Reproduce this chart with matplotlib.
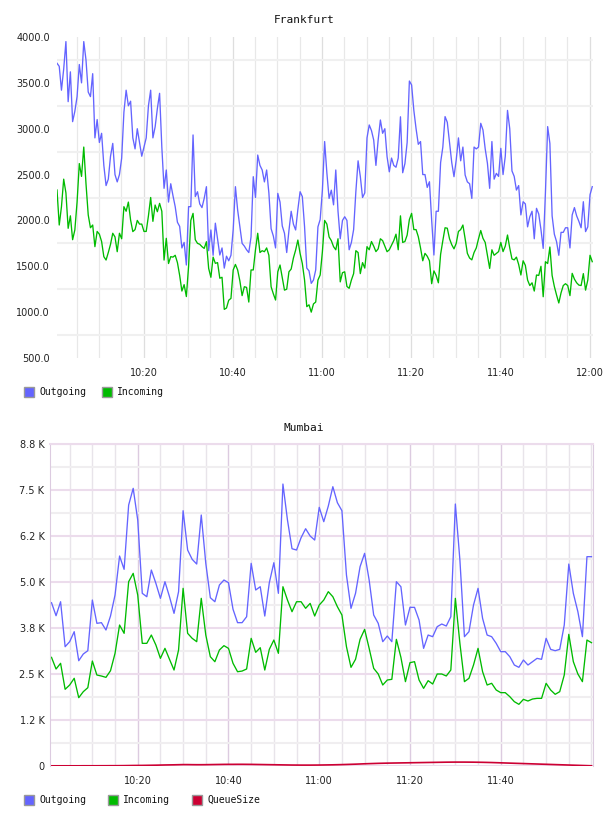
import numpy as np
import pandas as pd
import matplotlib
matplotlib.use('Agg')
import matplotlib.pyplot as plt
import matplotlib.dates as mdates
from matplotlib.patches import Rectangle
from matplotlib.ticker import MultipleLocator, FixedLocator, FuncFormatter

W, H = 608, 816

blue = '#6464ff'
green = '#00bb00'
red = '#cc0033'

#########################   DATA  ##########################

# Frankfurt, one sample every 30 s
fra_start = '2024-01-01 10:00:36'
fra_outgoing = [
    3714, 3680, 3420, 3650, 3950, 3295, 3620, 3077, 3190, 3350,
    3700, 3500, 3950, 3750, 3400, 3350, 3600, 2900, 3100, 2850,
    2950, 2600, 2380, 2450, 2700, 2840, 2500, 2420, 2500, 2680,
    3180, 3420, 3250, 3300, 2900, 2780, 3000, 2850, 2700, 2800,
    2900, 3250, 3420, 2900, 3020, 3220, 3386, 2800, 2350, 2550,
    2200, 2400, 2270, 2150, 1980, 1935, 1700, 1760, 1514, 2150,
    2150,
    2932, 2260, 2313, 2180, 2140, 2240, 2368, 1670, 1896, 1620,
    1970, 1800, 1623, 1700, 1480, 1610, 1560, 1620, 1900, 2368,
    2113, 1930, 1750, 1720, 1680, 1650, 1820, 2477, 2250, 2713,
    2600, 2550, 2420, 2550, 2300, 1910, 1830, 1700, 2295, 2200,
    1940, 1860, 1650, 1890, 2100, 1960, 1896, 2120, 2313, 2260,
    1932, 1480, 1450, 1314, 1350, 1460, 1930, 2010, 2331, 2860,
    2520, 2240, 2330, 2170, 2550, 2100, 1800, 2000, 2040, 2000,
    1680, 1760, 1900, 2313, 2650, 2480, 2250, 2300, 2900, 3041,
    2980, 2877, 2600, 2877, 3095, 2950, 3000, 2695, 2530, 2680,
    2600, 2580, 2680, 3130, 2520, 2620, 2850, 3520, 3477, 3200,
    3000, 2830, 2860, 2500, 2500, 2360, 2422, 2000, 1623, 2100,
    2100, 2630, 2800, 3132, 3070, 2850, 2630, 2477, 2659, 2900,
    2650, 2800, 2495, 2420, 2400, 2240, 2800, 2780, 2800, 3059,
    2986, 2780, 2622, 2350, 2860, 2450, 2513, 2480, 2786, 2500,
    2700, 3200, 3000, 2540, 2480, 2331, 2380, 2060, 2204, 2180,
    1930, 2040, 2100, 1800, 2132, 2070, 1900, 1695, 2300, 3023,
    2840, 2050, 1850, 1768, 1620, 1870, 1870, 1920, 1920, 1700,
    2060, 2140, 2050, 1990, 1920, 2204, 1878, 1930, 2280, 2368,
]
fra_incoming = [
    2332, 1950, 2150, 2450, 2300, 1914, 2050, 1790, 1896, 2200,
    2620, 2480, 2800, 2400, 2060, 1920, 1950, 1714, 1880, 1850,
    1770, 1605, 1568, 1650, 1740, 1860, 1820, 1659, 1860, 1800,
    2150, 2100, 2200, 2004, 1878, 1900, 2000, 1960, 1960, 1880,
    1880, 2050, 2250, 1990, 2168, 2095, 2186, 2100, 1568, 1805,
    1530, 1605, 1600, 1620, 1540, 1400, 1230, 1300, 1170, 1500,
    2000,
    2077, 1790, 1750, 1740, 1714, 1695, 1768, 1477, 1380, 1600,
    1532, 1540, 1370, 1380, 1030, 1045, 1130, 1150, 1460, 1520,
    1460, 1340, 1180, 1277, 1270, 1110, 1460, 1460, 1680, 1860,
    1650, 1670, 1659, 1700, 1620, 1277, 1200, 1132, 1440, 1514,
    1380, 1240, 1250, 1440, 1470, 1590, 1677, 1786, 1640, 1530,
    1350, 1060, 1080, 1000, 1090, 1110, 1350, 1405, 1659, 2000,
    1960, 1820, 1780, 1714, 1680, 1800, 1330, 1430, 1440, 1280,
    1260, 1350, 1420, 1670, 1650, 1420, 1540, 1480, 1714, 1680,
    1770, 1720, 1660, 1690, 1800, 1780, 1720, 1659, 1680, 1730,
    1780, 1850, 1680, 2050, 1760, 1770, 1840, 2010, 2077, 1900,
    1900, 1823, 1700, 1560, 1641, 1610, 1560, 1310, 1450, 1400,
    1320, 1630, 1780, 1920, 1915, 1800, 1735, 1690, 1750, 1880,
    1900, 1950, 1800, 1641, 1590, 1570, 1650, 1700, 1800, 1890,
    1805, 1760, 1620, 1477, 1680, 1620, 1640, 1660, 1760, 1660,
    1720, 1841, 1700, 1580, 1570, 1600, 1520, 1405, 1560, 1510,
    1350, 1290, 1320, 1230, 1405, 1400, 1500, 1168, 1550, 1530,
    1710, 1400, 1280, 1186, 1100, 1210, 1290, 1310, 1290, 1180,
    1423, 1360, 1320, 1295, 1290, 1420, 1240, 1350, 1620, 1550,
]

# Mumbai, one sample per minute
mum_start = '2024-01-01 10:01'
mum_outgoing = [
    4437, 4084, 4464, 3242, 3378, 3650, 2861, 3043, 3133, 4510,
    3877, 3895, 3695, 4075, 4646, 5706, 5344, 7091, 7545, 6684,
    4692, 4600, 5325, 4964, 4556, 5008, 4600, 4148, 4736, 6937,
    5869, 5616, 5488, 6820, 5507, 4573, 4464, 4918, 5054, 4981,
    4260, 3895, 3895, 4057, 5507, 4782, 4872, 4075, 4981, 5524,
    4692, 7662, 6684, 5904, 5869, 6203, 6448, 6249, 6140, 7028,
    6639, 7064, 7590, 7155, 6937, 5190, 4284, 4692, 5416, 5779,
    5054, 4103, 3877, 3378, 3532, 3378, 5008, 4872, 3831, 4311,
    4311, 3967, 3197, 3559, 3514, 3786, 3858, 3804, 4057, 7119,
    5597, 3514, 3650, 4374, 4828, 4012, 3559, 3514, 3333, 3107,
    3107, 2970, 2744, 2681, 2880, 2744, 2834, 2925, 2899, 3469,
    3170, 3133, 3170, 3831, 5488, 4692, 4193, 3514, 5688, 5688,
]
mum_incoming = [
    2952, 2636, 2790, 2084, 2201, 2383, 1856, 2019, 2128, 2853,
    2472, 2445, 2409, 2589, 3062, 3831, 3605, 5008, 5235, 4646,
    3333, 3333, 3559, 3288, 2925, 3197, 2899, 2608, 3152, 4828,
    3605, 3469, 3378, 4556, 3559, 2970, 2834, 3152, 3270, 3197,
    2790, 2562, 2580, 2636, 3469, 3089, 3215, 2608, 3170, 3423,
    3062, 4872, 4510, 4193, 4464, 4464, 4285, 4419, 4076, 4374,
    4510, 4737, 4600, 4329, 4103, 3242, 2681, 2899, 3442, 3713,
    3197, 2654, 2500, 2201, 2337, 2355, 3442, 2952, 2292, 2808,
    2835, 2337, 2110, 2319, 2228, 2500, 2500, 2446, 2608, 4556,
    3333, 2292, 2383, 2744, 3197, 2563, 2201, 2247, 2065, 1993,
    1993, 1884, 1748, 1676, 1811, 1766, 1820, 1838, 1838, 2247,
    2065, 1948, 2020, 2473, 3578, 2835, 2500, 2292, 3423, 3351,
]
mum_queue = [
    5, 5, 5, 5, 5, 5, 5, 6, 6, 6,
    6, 7, 7, 8, 8, 9, 10, 12, 14, 15,
    16, 18, 20, 22, 25, 28, 30, 32, 35, 38,
    38, 36, 35, 35, 36, 38, 40, 42, 44, 45,
    45, 46, 46, 45, 44, 42, 40, 38, 36, 34,
    32, 30, 28, 26, 25, 24, 24, 24, 25, 26,
    28, 30, 32, 35, 38, 42, 46, 50, 55, 60,
    64, 68, 72, 75, 78, 80, 82, 84, 86, 88,
    90, 92, 94, 96, 98, 100, 102, 104, 105, 106,
    106, 106, 105, 104, 102, 100, 97, 94, 90, 86,
    82, 78, 74, 70, 66, 62, 58, 54, 50, 46,
    42, 38, 34, 30, 26, 22, 18, 14, 10, 6,
]

fra_ticks = [500, 1000, 1500, 2000, 2500, 3000, 3500, 4000]
mum_ticks = [0, 1250, 2500, 3750, 5000, 6250, 7500, 8750]
mum_time_labels = ['10:20', '10:40', '11:00', '11:20', '11:40']

fra_times = pd.date_range(fra_start, periods=len(fra_outgoing), freq='30s')
mum_times = pd.date_range(mum_start, periods=len(mum_outgoing), freq='1min')

#########################   HELPERS  ##########################

def fig_box(left, top, right, bottom):
    # pixel box -> figure fraction rect
    return [left / W, 1 - bottom / H, (right - left) / W, (bottom - top) / H]


def legend_item(fig, x, y, color, label):
    fig.add_artist(Rectangle((x / W, 1 - (y + 5) / H), 10 / W, 10 / H,
                             transform=fig.transFigure, facecolor=color,
                             edgecolor='#999999', lw=1.0))
    fig.text((x + 15) / W, 1 - y / H, label, fontsize=7, family='DejaVu Sans Mono',
             va='center', ha='left', color='#111111')


def style_axes(ax, pad_y):
    ax.set_axisbelow(True)
    ax.tick_params(which='both', length=0, labelsize=7, colors='#222222')
    ax.tick_params(axis='y', pad=pad_y)
    ax.tick_params(axis='x', pad=7)
    ax.xaxis.set_major_locator(mdates.MinuteLocator(byminute=[0, 20, 40]))
    ax.xaxis.set_minor_locator(mdates.MinuteLocator(byminute=range(0, 60, 5)))
    ax.xaxis.set_major_formatter(mdates.DateFormatter('%H:%M'))
    ax.xaxis.set_minor_formatter(plt.NullFormatter())


fig = plt.figure(figsize=(W / 100, H / 100), dpi=100)

#########################   FRANKFURT  ##########################

ax1 = fig.add_axes(fig_box(57, 37, 593, 358))
style_axes(ax1, 5)
ax1.plot(fra_times, fra_outgoing, color=blue, lw=0.95)
ax1.plot(fra_times, fra_incoming, color=green, lw=0.95)
ax1.set_ylim(fra_ticks[0], fra_ticks[-1])
ax1.set_xlim(fra_times[0], fra_times[-1] + pd.Timedelta(seconds=10))
ax1.yaxis.set_major_locator(FixedLocator(fra_ticks))
ax1.yaxis.set_minor_locator(FixedLocator(np.array(fra_ticks[:-1]) + 250))
ax1.yaxis.set_major_formatter(FuncFormatter(lambda v, p: f'{v:.1f}'))
ax1.yaxis.grid(True, which='minor', color='#f0f0f0', lw=1.5)
ax1.xaxis.grid(True, which='major', color='#dedede', lw=0.9)
ax1.xaxis.grid(True, which='minor', color='#e8e8e8', lw=0.9)
for s in ax1.spines.values():
    s.set_visible(False)

fig.text(0.5, 1 - 20 / H, 'Frankfurt', ha='center', va='center', fontsize=8,
         family='DejaVu Sans Mono', color='#111111')
legend_item(fig, 24, 392, blue, 'Outgoing')
legend_item(fig, 102, 392, green, 'Incoming')

#########################   MUMBAI  ##########################

ax2 = fig.add_axes(fig_box(50, 444, 593, 766))
style_axes(ax2, 4)
ax2.plot(mum_times, mum_outgoing, color=blue, lw=0.95)
ax2.plot(mum_times, mum_incoming, color=green, lw=0.95)
ax2.plot(mum_times, mum_queue, color=red, lw=1.2)
ax2.set_ylim(mum_ticks[0], mum_ticks[-1])
ax2.set_xlim(pd.Timestamp('2024-01-01 10:00:40'), pd.Timestamp('2024-01-01 12:00:20'))
# only label up to 11:40, as in the original
ax2.xaxis.set_major_locator(FixedLocator(mdates.date2num(
    pd.to_datetime(['2024-01-01 ' + t for t in mum_time_labels]))))
ax2.yaxis.set_major_locator(FixedLocator(mum_ticks))
ax2.yaxis.set_minor_locator(FixedLocator(np.array(mum_ticks[:-1]) + 625))
ax2.yaxis.set_major_formatter(FuncFormatter(lambda v, p: '0' if v == 0 else f'{v / 1000:.1f} K'))
ax2.yaxis.grid(True, which='major', color='#ecdcec', lw=1.5)
ax2.yaxis.grid(True, which='minor', color='#f0eef0', lw=1.5)
ax2.xaxis.grid(True, which='major', color='#dccbe0', lw=1.0)
ax2.xaxis.grid(True, which='minor', color='#e8e4ea', lw=1.0)
ax2.spines['bottom'].set_visible(False)
ax2.spines['top'].set_color('#ecdcec')
ax2.spines['top'].set_linewidth(1.5)
ax2.spines['left'].set_color('#dccbe0')
ax2.spines['right'].set_color('#dccbe0')

fig.text(0.5, 1 - 428 / H, 'Mumbai', ha='center', va='center', fontsize=8,
         family='DejaVu Sans Mono', color='#111111')
legend_item(fig, 24, 800, blue, 'Outgoing')
legend_item(fig, 108, 800, green, 'Incoming')
legend_item(fig, 192, 800, red, 'QueueSize')

fig.savefig('out.png', dpi=100, facecolor='white')
